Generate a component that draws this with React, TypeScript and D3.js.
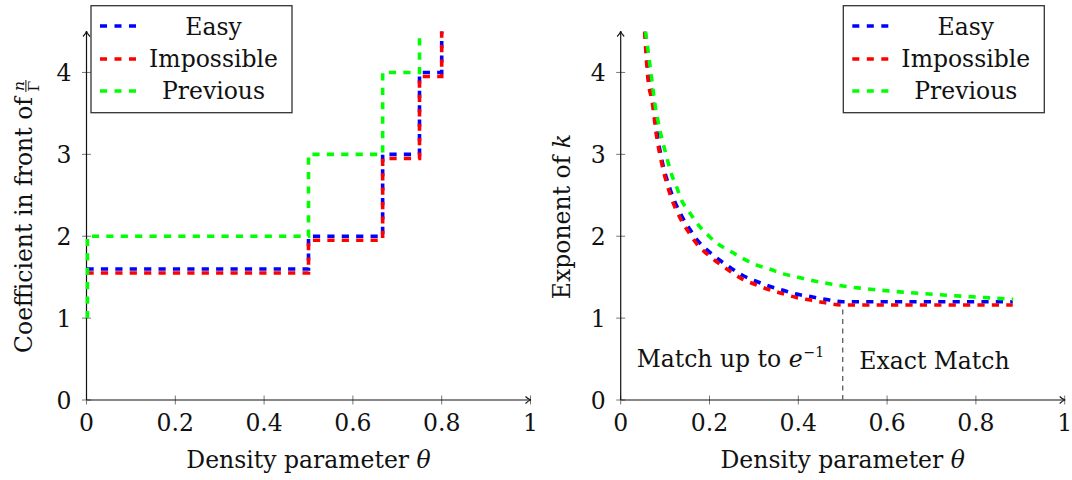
import React, { useEffect, useRef } from "react";
import * as d3 from "d3";

// ---------- data ----------
const xTickValues = [0, 0.2, 0.4, 0.6, 0.8, 1];
const xTickLabels = ["0", "0.2", "0.4", "0.6", "0.8", "1"];
const yTickValues = [0, 1, 2, 3, 4];
const yTickLabels = ["0", "1", "2", "3", "4"];
const seriesNames = ["Easy", "Impossible", "Previous"];
const seriesColors = ["#0000ff", "#ff0000", "#00ff00"];

// Left panel: step functions (theta, coefficient)
const leftEasyTheta = [0, 0.5, 0.667, 0.75, 0.8];
const leftEasyValue = [1.6, 2, 3, 4, 4.7];
const leftImpTheta = [0, 0.5, 0.667, 0.75, 0.8];
const leftImpValue = [1.55, 1.95, 2.95, 3.95, 4.7];
const leftPrevTheta = [0.002, 0.002, 0.5, 0.667, 0.75];
const leftPrevValue = [1, 2, 3, 4, 4.7];

// Right panel: exponent of k
const rightEasyTheta = [0.055, 0.062, 0.0735, 0.081, 0.092, 0.111, 0.136, 0.155, 0.173, 0.195, 0.22, 0.246, 0.275, 0.305, 0.335, 0.366, 0.399, 0.43, 0.46, 0.5, 0.6, 0.7, 0.8, 0.883];
const rightEasyValue = [4.5, 4.0, 3.66, 3.3, 2.95, 2.58, 2.26, 2.09, 1.95, 1.83, 1.72, 1.62, 1.52, 1.45, 1.39, 1.34, 1.29, 1.26, 1.23, 1.2, 1.2, 1.2, 1.2, 1.2];
const rightImpTheta = [0.054, 0.06, 0.072, 0.08, 0.09, 0.109, 0.134, 0.153, 0.171, 0.193, 0.218, 0.244, 0.273, 0.303, 0.333, 0.364, 0.397, 0.428, 0.458, 0.5, 0.6, 0.7, 0.8, 0.883];
const rightImpValue = [4.5, 4.0, 3.6, 3.25, 2.95, 2.55, 2.22, 2.05, 1.91, 1.79, 1.68, 1.58, 1.48, 1.41, 1.35, 1.3, 1.25, 1.22, 1.19, 1.16, 1.16, 1.16, 1.16, 1.16];
const rightPrevTheta = [0.056, 0.068, 0.077, 0.0885, 0.102, 0.113, 0.126, 0.137, 0.154, 0.173, 0.195, 0.218, 0.246, 0.275, 0.305, 0.335, 0.366, 0.399, 0.43, 0.46, 0.49, 0.55, 0.629, 0.734, 0.884];
const rightPrevValue = [4.5, 4.0, 3.62, 3.29, 3.0, 2.78, 2.6, 2.44, 2.3, 2.15, 2.02, 1.91, 1.82, 1.73, 1.65, 1.6, 1.54, 1.5, 1.46, 1.43, 1.4, 1.36, 1.32, 1.28, 1.23];

const splitTheta = 0.5;
const splitTop = 1.14;

const FONT = "'DejaVu Serif', serif";
const FS = 23.5;

export default function App() {
  const ref = useRef<SVGSVGElement | null>(null);

  useEffect(() => {
    const svg = d3.select(ref.current);
    svg.selectAll("*").remove();

    const y = d3.scaleLinear().domain([0, 4.5]).range([400, 31.5]);

    const panel = (x0: number, id: string) => {
      const x = d3.scaleLinear().domain([0, 1]).range([x0, x0 + 444]);
      const g = svg.append("g");
      svg
        .append("clipPath")
        .attr("id", id)
        .append("rect")
        .attr("x", x(0) - 5)
        .attr("y", y(4.5))
        .attr("width", 460)
        .attr("height", y(0) - y(4.5) + 5);
      // ticks
      xTickValues.forEach((v, i) => {
        g.append("line")
          .attr("x1", x(v)).attr("x2", x(v))
          .attr("y1", y(0) - 4.5).attr("y2", y(0) + 4.5)
          .attr("stroke", "#777").attr("stroke-width", 1);
        g.append("text")
          .attr("x", x(v)).attr("y", 431)
          .attr("text-anchor", "middle")
          .attr("font-family", FONT).attr("font-size", FS)
          .attr("fill", "#111")
          .text(xTickLabels[i]);
      });
      yTickValues.forEach((v, i) => {
        g.append("line")
          .attr("x1", x(0) - 4.5).attr("x2", x(0) + 4.5)
          .attr("y1", y(v)).attr("y2", y(v))
          .attr("stroke", "#777").attr("stroke-width", 1);
        g.append("text")
          .attr("x", x(0) - 15).attr("y", y(v) + 8.5)
          .attr("text-anchor", "end")
          .attr("font-family", FONT).attr("font-size", FS)
          .attr("fill", "#111")
          .text(yTickLabels[i]);
      });
      // axes
      g.append("line")
        .attr("x1", x(0)).attr("x2", x(1))
        .attr("y1", y(0)).attr("y2", y(0))
        .attr("stroke", "#111").attr("stroke-width", 1.2);
      g.append("line")
        .attr("x1", x(0)).attr("x2", x(0))
        .attr("y1", y(0)).attr("y2", y(4.5))
        .attr("stroke", "#111").attr("stroke-width", 1.2);
      const xe = x(1), ye = y(4.5);
      g.append("path")
        .attr("d", `M${xe - 5},${y(0) - 3.5} Q${xe - 2},${y(0) - 0.5} ${xe + 0.5},${y(0)} Q${xe - 2},${y(0) + 0.5} ${xe - 5},${y(0) + 3.5}`)
        .attr("fill", "none").attr("stroke", "#111").attr("stroke-width", 1.1);
      g.append("path")
        .attr("d", `M${x(0) - 3.5},${ye + 5} Q${x(0) - 0.5},${ye + 2} ${x(0)},${ye - 0.5} Q${x(0) + 0.5},${ye + 2} ${x(0) + 3.5},${ye + 5}`)
        .attr("fill", "none").attr("stroke", "#111").attr("stroke-width", 1.1);
      // x label
      const xl = g.append("text")
        .attr("x", (x(0) + x(1)) / 2).attr("y", 468)
        .attr("text-anchor", "middle")
        .attr("font-family", FONT).attr("font-size", FS)
        .attr("fill", "#111");
      xl.append("tspan").text("Density parameter ");
      xl.append("tspan").attr("font-style", "italic").text("θ");
      return { x, g };
    };

    const drawLines = (
      x: d3.ScaleLinear<number, number>,
      id: string,
      sets: [number[], number[]][],
      curve: d3.CurveFactory
    ) => {
      const cg = svg.append("g").attr("clip-path", `url(#${id})`);
      sets.forEach(([tx, vy], i) => {
        const pts = tx.map((t, j) => [t, vy[j]] as [number, number]);
        const line = d3
          .line<[number, number]>()
          .x((d) => x(d[0]))
          .y((d) => y(d[1]))
          .curve(curve);
        cg.append("path")
          .attr("d", line(pts) as string)
          .attr("fill", "none")
          .attr("stroke", seriesColors[i])
          .attr("stroke-width", 3.6)
          .attr("stroke-dasharray", "7.2 7.2");
      });
    };

    const legend = (lx: number) => {
      const g = svg.append("g");
      g.append("rect")
        .attr("x", lx).attr("y", 5.7)
        .attr("width", 201).attr("height", 107)
        .attr("fill", "white").attr("stroke", "#333").attr("stroke-width", 1.3);
      const rows = [26, 59, 91];
      const bases = [34.5, 66.8, 99];
      seriesNames.forEach((n, i) => {
        g.append("line")
          .attr("x1", lx + 9).attr("x2", lx + 45)
          .attr("y1", rows[i]).attr("y2", rows[i])
          .attr("stroke", seriesColors[i]).attr("stroke-width", 3.6)
          .attr("stroke-dasharray", "7 7.5");
        g.append("text")
          .attr("x", lx + 122.5).attr("y", bases[i])
          .attr("text-anchor", "middle")
          .attr("font-family", FONT).attr("font-size", FS)
          .attr("fill", "#111")
          .text(n);
      });
    };

    // ---- left panel ----
    const L = panel(86.5, "clipL");
    drawLines(
      L.x,
      "clipL",
      [
        [leftEasyTheta, leftEasyValue],
        [leftImpTheta, leftImpValue],
        [leftPrevTheta, leftPrevValue],
      ],
      d3.curveStepAfter
    );
    legend(91);

    // left y label with fraction
    const lg = svg.append("g").attr("transform", `translate(31.5,216.5) rotate(-90)`);
    const lt = lg.append("text")
      .attr("x", 0).attr("y", 0)
      .attr("font-family", FONT).attr("font-size", FS)
      .attr("fill", "#111")
      .text("Coefficient in front of");
    const len = (lt.node() as SVGTextElement).getComputedTextLength();
    const fracW = 12;
    const gap = 5;
    const total = len + gap + fracW;
    lt.attr("x", -total / 2);
    const fx = -total / 2 + len + gap;
    lg.append("line")
      .attr("x1", fx).attr("x2", fx + fracW)
      .attr("y1", -5.6).attr("y2", -5.6)
      .attr("stroke", "#111").attr("stroke-width", 1);
    lg.append("text")
      .attr("x", fx + fracW / 2).attr("y", -7.8)
      .attr("text-anchor", "middle")
      .attr("font-family", FONT).attr("font-size", 15.5).attr("font-style", "italic")
      .attr("fill", "#111").text("n");
    lg.append("text")
      .attr("x", fx + fracW / 2).attr("y", 7.2)
      .attr("text-anchor", "middle")
      .attr("font-family", FONT).attr("font-size", 15.5)
      .attr("fill", "#111").text("Γ");

    // ---- right panel ----
    const R = panel(620.7, "clipR");
    // split line
    svg.append("line")
      .attr("x1", R.x(splitTheta)).attr("x2", R.x(splitTheta))
      .attr("y1", y(0)).attr("y2", y(splitTop))
      .attr("stroke", "#666").attr("stroke-width", 1.4)
      .attr("stroke-dasharray", "5 4.5");
    drawLines(
      R.x,
      "clipR",
      [
        [rightEasyTheta, rightEasyValue],
        [rightImpTheta, rightImpValue],
        [rightPrevTheta, rightPrevValue],
      ],
      d3.curveMonotoneX
    );
    legend(843.3);

    svg.append("text")
      .attr("transform", `translate(570,216.5) rotate(-90)`)
      .attr("text-anchor", "middle")
      .attr("font-family", FONT).attr("font-size", FS)
      .attr("fill", "#111")
      .call((t) => {
        t.append("tspan").text("Exponent of ");
        t.append("tspan").attr("font-style", "italic").text("k");
      });

    const a1 = svg.append("text")
      .attr("x", 636.7).attr("y", 367)
      .attr("font-family", FONT).attr("font-size", FS)
      .attr("fill", "#111");
    a1.append("tspan").text("Match up to ");
    a1.append("tspan").attr("font-style", "italic").text("e");
    a1.append("tspan").attr("dy", -10).attr("dx", 1).attr("font-size", 14).text("−1");

    svg.append("text")
      .attr("x", 859.3).attr("y", 369)
      .attr("font-family", FONT).attr("font-size", FS)
      .attr("fill", "#111")
      .text("Exact Match");
  }, []);

  return (
    <svg
      ref={ref}
      width={1072}
      height={480}
      style={{ position: "absolute", left: 0, top: 0, background: "white" }}
    />
  );
}
